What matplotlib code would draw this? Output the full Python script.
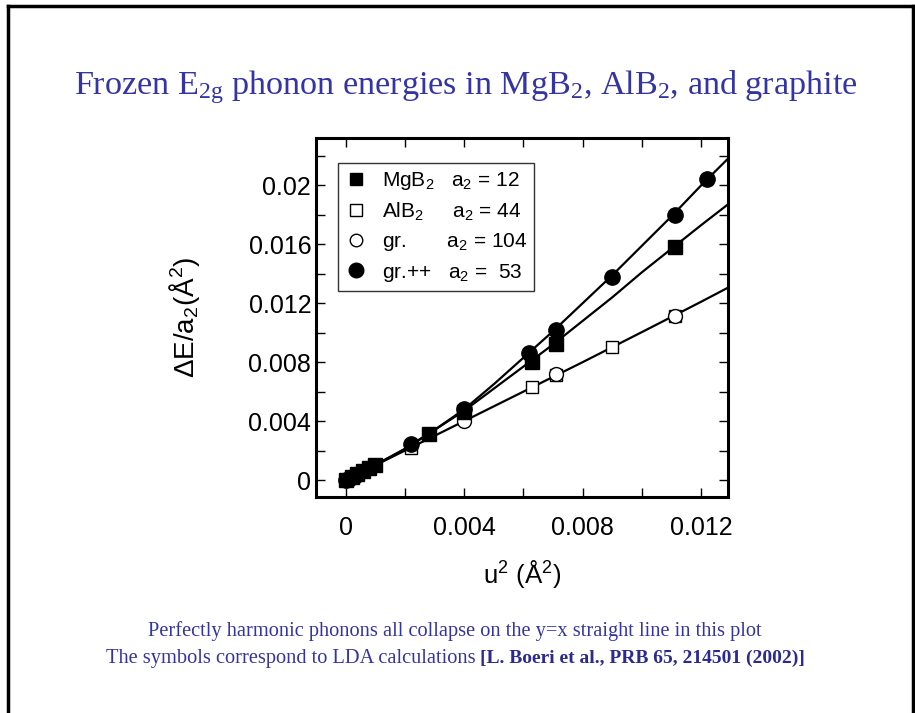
import matplotlib
matplotlib.use("Agg")
import matplotlib.pyplot as plt
from matplotlib.ticker import FixedLocator, FixedFormatter, MultipleLocator
from matplotlib.lines import Line2D

plt.rcParams['font.family'] = ['Liberation Sans', 'DejaVu Sans']
plt.rcParams['mathtext.default'] = 'regular'

# ---------------- data ----------------
mgb2_x = [0.0, 0.0002, 0.0004, 0.0006, 0.0008, 0.0010, 0.0028, 0.0040, 0.0063, 0.0071, 0.0111]
mgb2_y = [0.0, 0.0002, 0.0004, 0.0006, 0.00082, 0.00103, 0.0031, 0.0046, 0.0080, 0.0092, 0.0158]

alb2_x = [0.0, 0.0002, 0.0022, 0.0063, 0.0071, 0.0090, 0.0111]
alb2_y = [0.0, 0.0002, 0.00215, 0.0063, 0.0071, 0.0090, 0.0111]

gr_x = [0.0, 0.0001, 0.0040, 0.0071, 0.0111]
gr_y = [0.0, 0.0001, 0.0040, 0.0072, 0.0111]

grpp_x = [0.0, 0.0001, 0.0003, 0.0022, 0.0040, 0.0062, 0.0071, 0.0090, 0.0111, 0.0122]
grpp_y = [0.0, 0.0001, 0.0003, 0.00245, 0.0048, 0.0086, 0.0102, 0.0138, 0.0180, 0.0204]

# fitted curves
fit_x = [0.0, 0.001, 0.002, 0.003, 0.004, 0.005, 0.006, 0.007, 0.008, 0.009, 0.010, 0.011, 0.012, 0.0129]
fit_grpp_y = [0.0, 0.00102, 0.00212, 0.0034, 0.0048, 0.0065, 0.0083, 0.0101, 0.0120, 0.0139, 0.0159, 0.0179, 0.0200, 0.0218]
fit_mgb2_y = [0.0, 0.00102, 0.0021, 0.0034, 0.0047, 0.0062, 0.0077, 0.0092, 0.0108, 0.0124, 0.0141, 0.0157, 0.0173, 0.0187]
fit_low_y = [0.0, 0.001, 0.002, 0.003, 0.004, 0.005, 0.006, 0.007, 0.008, 0.00902, 0.01004, 0.01107, 0.0121, 0.01305]

x_ticks = [0.0, 0.004, 0.008, 0.012]
x_ticklabels = ["0", "0.004", "0.008", "0.012"]
y_ticks = [0.0, 0.004, 0.008, 0.012, 0.016, 0.020]
y_ticklabels = ["0", "0.004", "0.008", "0.012", "0.016", "0.02"]

legend_labels = ["MgB$_2$   a$_2$ = 12",
                 "AlB$_2$     a$_2$ = 44",
                 "gr.       a$_2$ = 104",
                 "gr.++   a$_2$ =  53"]

title_text = "Frozen E$_{2g}$ phonon energies in MgB$_2$, AlB$_2$, and graphite"
caption1 = "Perfectly harmonic phonons all collapse on the y=x straight line in this plot"
caption2a = "The symbols correspond to LDA calculations "
caption2b = "[L. Boeri et al., PRB 65, 214501 (2002)]"

blue = '#3434a4'
serif = ['Liberation Serif', 'DejaVu Serif']

# ---------------- figure ----------------
fig = plt.figure(figsize=(9.15, 7.13), dpi=100)
fig.patch.set_facecolor('white')

# slide frame
fig.add_artist(Line2D([8/915, 8/915], [0, 1 - 6/713], transform=fig.transFigure, color='black', lw=2.5))
fig.add_artist(Line2D([8/915, 913/915], [1 - 6/713, 1 - 6/713], transform=fig.transFigure, color='black', lw=2.5))
fig.add_artist(Line2D([913/915, 913/915], [0, 1 - 6/713], transform=fig.transFigure, color='black', lw=2.5))

fig.text(466/915, 1 - 87/713, title_text, ha='center', va='center', fontsize=24.6,
         color=blue, family=serif)

ax = fig.add_axes([316/915, 1 - 497/713, 412/915, 359/713])

ax.plot(fit_x, fit_grpp_y, color='black', lw=1.6, zorder=2)
ax.plot(fit_x, fit_mgb2_y, color='black', lw=1.6, zorder=2)
ax.plot(fit_x, fit_low_y, color='black', lw=1.6, zorder=2)

ax.plot(alb2_x, alb2_y, ls='none', marker='s', ms=9, mfc='white', mec='black', mew=1.0, zorder=3)
ax.plot(gr_x, gr_y, ls='none', marker='o', ms=10, mfc='white', mec='black', mew=1.0, zorder=3)
ax.plot(mgb2_x, mgb2_y, ls='none', marker='s', ms=9.5, mfc='black', mec='black', zorder=4)
ax.plot(grpp_x, grpp_y, ls='none', marker='o', ms=11, mfc='black', mec='black', zorder=4)

ax.set_xlim(-0.001, 0.0129)
ax.set_ylim(-0.00115, 0.0232)

ax.xaxis.set_major_locator(FixedLocator(x_ticks))
ax.xaxis.set_major_formatter(FixedFormatter(x_ticklabels))
ax.yaxis.set_major_locator(FixedLocator(y_ticks))
ax.yaxis.set_major_formatter(FixedFormatter(y_ticklabels))
ax.xaxis.set_minor_locator(MultipleLocator(0.002))
ax.yaxis.set_minor_locator(MultipleLocator(0.002))

ax.tick_params(which='both', direction='in', top=True, right=True, length=6.5, width=1.0)
ax.tick_params(axis='y', which='major', labelsize=18, pad=3.5)
ax.tick_params(axis='x', which='major', labelsize=18, pad=14)
for s in ax.spines.values():
    s.set_linewidth(2.2)

ax.set_xlabel("u$^2$ (Å$^2$)", fontsize=18.5, labelpad=13)
ax.set_ylabel("ΔE/a$_2$(Å$^2$)", fontsize=20, labelpad=33)

handles = [
    Line2D([], [], ls='none', marker='s', ms=8.5, mfc='black', mec='black'),
    Line2D([], [], ls='none', marker='s', ms=8, mfc='white', mec='black', mew=1.0),
    Line2D([], [], ls='none', marker='o', ms=9, mfc='white', mec='black', mew=1.0),
    Line2D([], [], ls='none', marker='o', ms=10.5, mfc='black', mec='black'),
]
leg = ax.legend(handles, legend_labels, loc='upper left', bbox_to_anchor=(0.0534, 0.9304),
                prop={'size': 15}, frameon=True, fancybox=False, edgecolor='black',
                handlelength=1.0, handletextpad=0.75, labelspacing=0.4, borderpad=0.35,
                borderaxespad=0.0)
leg.get_frame().set_linewidth(1.0)

fig.text(455/915, 1 - 631/713, caption1, ha='center', va='center', fontsize=14.7,
         color=blue, family=serif)

# second caption line: regular + bold parts, centred together
renderer = fig.canvas.get_renderer()
t_a = fig.text(0, 1 - 658/713, caption2a, ha='left', va='center', fontsize=14.7,
               color=blue, family=serif)
t_b = fig.text(0, 1 - 658/713, caption2b, ha='left', va='center', fontsize=14,
               color='#2a2a90', family=serif, fontweight='bold')
wa = t_a.get_window_extent(renderer).width
wb = t_b.get_window_extent(renderer).width
x0 = 455.5 - (wa + wb) / 2
t_a.set_x(x0 / 915)
t_b.set_x((x0 + wa) / 915)

fig.savefig("out.png", dpi=100)
